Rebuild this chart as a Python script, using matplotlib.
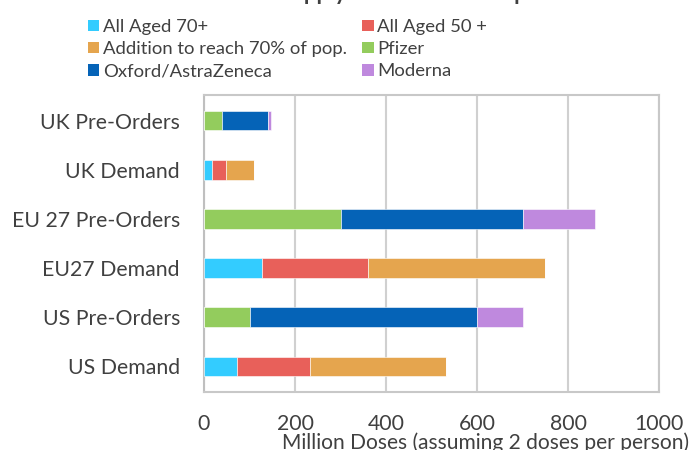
import matplotlib.pyplot as plt
from matplotlib.patches import Patch

plt.rcParams['font.family'] = ['Lato', 'DejaVu Sans']

categories = ["UK Pre-Orders", "UK Demand", "EU 27 Pre-Orders",
              "EU27 Demand", "US Pre-Orders", "US Demand"]

# demand segments (million doses), zero for pre-order rows
aged_70 = [0, 18, 0, 127, 0, 73]
aged_50 = [0, 30, 0, 234, 0, 160]
addition_70pct = [0, 61, 0, 389, 0, 299]
# pre-order segments, zero for demand rows
pfizer = [40, 0, 300, 0, 100, 0]
astrazeneca = [100, 0, 400, 0, 500, 0]
moderna = [7, 0, 160, 0, 100, 0]

series = [
    ("All Aged 70+", aged_70, "#33ccff"),
    ("All Aged 50 +", aged_50, "#e8605a"),
    ("Addition to reach 70% of pop.", addition_70pct, "#e5a54e"),
    ("Pfizer", pfizer, "#93cc5d"),
    ("Oxford/AstraZeneca", astrazeneca, "#0563b7"),
    ("Moderna", moderna, "#bf89de"),
]

fig = plt.figure(figsize=(6.9, 4.5), dpi=100)
ax = fig.add_axes([204 / 690, 1 - 392 / 450, 455 / 690, 297 / 450])

y = list(range(len(categories)))[::-1]
left = [0] * len(categories)
for name, vals, col in series:
    ax.barh(y, vals, left=left, height=0.4, color=col,
            edgecolor="white", linewidth=0.4, zorder=3)
    left = [a + b for a, b in zip(left, vals)]

ax.set_xlim(0, 1000)
ax.set_ylim(-0.52, 5.52)
ax.set_xticks([0, 200, 400, 600, 800, 1000])
ax.set_yticks(y)
ax.set_yticklabels(categories)
ax.tick_params(axis="both", length=0, labelsize=15.3, colors="#404040")
ax.tick_params(axis="y", pad=17.3)
ax.tick_params(axis="x", pad=16)
ax.grid(axis="x", color="#d0d0d0", linewidth=1.5, zorder=0)
for s in ax.spines.values():
    s.set_color("#c8c8c8")
    s.set_linewidth(1.5)
ax.spines["left"].set_color("#bfbfbf")

fig.text(282 / 690, 1 - 443 / 450, "Million Doses (assuming 2 doses per person)",
         fontsize=15.1, color="#404040", ha="left", va="center")

# title is clipped by the top edge in the reference
fig.text(195 / 690, 1 - 0 / 450, "Vaccine Supply vs Demand Comparison",
         fontsize=16, fontweight="bold", color="#404040", ha="left", va="baseline")

order = [0, 2, 4, 1, 3, 5]
handles = [Patch(facecolor=series[i][2], label=series[i][0]) for i in order]
fig.legend(handles=handles, loc="upper left", bbox_to_anchor=(88 / 690, 1 - 19 / 450),
           ncol=2, frameon=False, fontsize=13.3, borderpad=0, borderaxespad=0,
           handlelength=0.6, handleheight=0.6, handletextpad=0.2,
           labelspacing=0.33, columnspacing=0.85, labelcolor="#404040")

fig.savefig("out.png", dpi=100)
